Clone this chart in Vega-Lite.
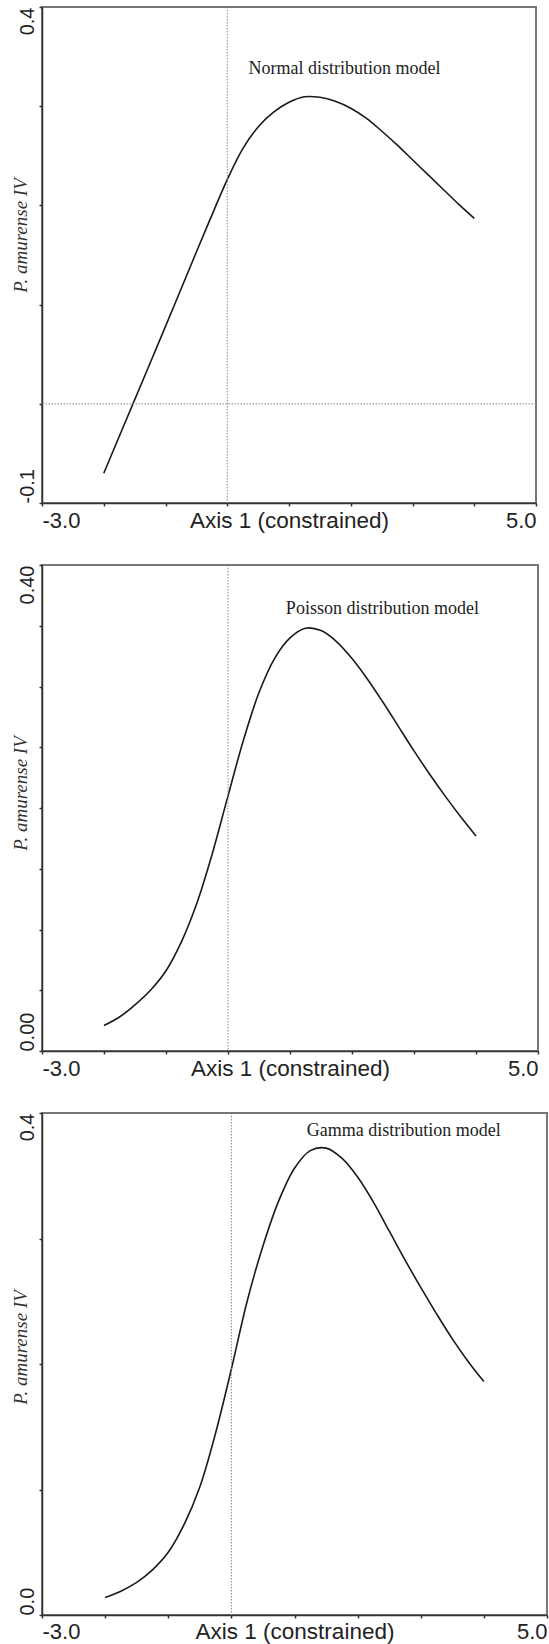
{
  "$schema": "https://vega.github.io/schema/vega-lite/v6.json",
  "background": "white",
  "padding": {"top": 5, "left": 10, "right": 0, "bottom": 0},
  "bounds": "flush",
  "spacing": 62,
  "config": {
    "view": {"stroke": "#777", "strokeWidth": 2},
    "axis": {
      "grid": false,
      "domainColor": "#333",
      "domainWidth": 1.5,
      "tickColor": "#333",
      "tickWidth": 1.5,
      "tickSize": 3,
      "labelFont": "Liberation Sans",
      "labelColor": "#222",
      "labelOverlap": false
    }
  },
  "datasets": {
    "normal": [
      {"axis1": -2.0, "iv": -0.070}, {"axis1": -1.5, "iv": 0.004}, {"axis1": -1.0, "iv": 0.078},
      {"axis1": -0.5, "iv": 0.153}, {"axis1": -0.25, "iv": 0.190}, {"axis1": 0.0, "iv": 0.226},
      {"axis1": 0.25, "iv": 0.257}, {"axis1": 0.5, "iv": 0.279}, {"axis1": 0.75, "iv": 0.294},
      {"axis1": 1.0, "iv": 0.304}, {"axis1": 1.25, "iv": 0.3095}, {"axis1": 1.5, "iv": 0.309},
      {"axis1": 1.75, "iv": 0.305}, {"axis1": 2.0, "iv": 0.298}, {"axis1": 2.25, "iv": 0.288},
      {"axis1": 2.5, "iv": 0.275}, {"axis1": 2.75, "iv": 0.261}, {"axis1": 3.0, "iv": 0.246},
      {"axis1": 3.25, "iv": 0.231}, {"axis1": 3.5, "iv": 0.216}, {"axis1": 3.75, "iv": 0.201},
      {"axis1": 4.0, "iv": 0.187}
    ],
    "poisson": [
      {"axis1": -2.0, "iv": 0.021}, {"axis1": -1.75, "iv": 0.028}, {"axis1": -1.5, "iv": 0.038},
      {"axis1": -1.25, "iv": 0.050}, {"axis1": -1.0, "iv": 0.066}, {"axis1": -0.75, "iv": 0.090},
      {"axis1": -0.5, "iv": 0.122}, {"axis1": -0.25, "iv": 0.163}, {"axis1": 0.0, "iv": 0.210},
      {"axis1": 0.25, "iv": 0.256}, {"axis1": 0.5, "iv": 0.295}, {"axis1": 0.75, "iv": 0.323},
      {"axis1": 1.0, "iv": 0.340}, {"axis1": 1.25, "iv": 0.348}, {"axis1": 1.5, "iv": 0.346},
      {"axis1": 1.75, "iv": 0.337}, {"axis1": 2.0, "iv": 0.323}, {"axis1": 2.25, "iv": 0.306},
      {"axis1": 2.5, "iv": 0.287}, {"axis1": 2.75, "iv": 0.267}, {"axis1": 3.0, "iv": 0.247},
      {"axis1": 3.25, "iv": 0.228}, {"axis1": 3.5, "iv": 0.210}, {"axis1": 3.75, "iv": 0.193},
      {"axis1": 4.0, "iv": 0.177}
    ],
    "gamma": [
      {"axis1": -2.0, "iv": 0.014}, {"axis1": -1.75, "iv": 0.019}, {"axis1": -1.5, "iv": 0.026},
      {"axis1": -1.25, "iv": 0.036}, {"axis1": -1.0, "iv": 0.050}, {"axis1": -0.75, "iv": 0.072},
      {"axis1": -0.5, "iv": 0.102}, {"axis1": -0.25, "iv": 0.145}, {"axis1": 0.0, "iv": 0.196},
      {"axis1": 0.25, "iv": 0.250}, {"axis1": 0.5, "iv": 0.294}, {"axis1": 0.75, "iv": 0.330},
      {"axis1": 1.0, "iv": 0.356}, {"axis1": 1.25, "iv": 0.370}, {"axis1": 1.5, "iv": 0.372},
      {"axis1": 1.75, "iv": 0.364}, {"axis1": 2.0, "iv": 0.349}, {"axis1": 2.25, "iv": 0.329},
      {"axis1": 2.5, "iv": 0.306}, {"axis1": 2.75, "iv": 0.283}, {"axis1": 3.0, "iv": 0.261},
      {"axis1": 3.25, "iv": 0.240}, {"axis1": 3.5, "iv": 0.220}, {"axis1": 3.75, "iv": 0.202},
      {"axis1": 4.0, "iv": 0.186}
    ],
    "ref": [{"zero": 0}],
    "labels_normal": [{"axis1": 1.9, "iv": 0.332, "label": "Normal distribution model"}],
    "labels_poisson": [{"axis1": 2.49, "iv": 0.360, "label": "Poisson distribution model"}],
    "labels_gamma": [{"axis1": 2.73, "iv": 0.382, "label": "Gamma distribution model"}]
  },
  "vconcat": [
    {
      "width": 494,
      "height": 496,
      "layer": [
        {
          "data": {"name": "normal"},
          "mark": {"type": "line", "color": "#1a1a1a", "strokeWidth": 1.6, "interpolate": "catmull-rom"},
          "encoding": {
            "x": {
              "field": "axis1", "type": "quantitative",
              "scale": {"domain": [-3, 5], "nice": false, "zero": false},
              "axis": {
                "values": [-3, -2, -1, 0, 1, 2, 3, 4, 5], "format": ".1f",
                "labelExpr": "datum.value == -3 || datum.value == 5 ? replace(datum.label, '\u2212', '-') : ''",
                "labelFlush": true, "labelBaseline": "alphabetic", "labelPadding": 21, "labelFontSize": 22,
                "title": "Axis 1 (constrained)", "titleFont": "Liberation Sans", "titleFontSize": 22.5,
                "titleFontWeight": "normal", "titleColor": "#222", "titleY": 24, "titleBaseline": "alphabetic"
              }
            },
            "y": {
              "field": "iv", "type": "quantitative",
              "scale": {"domain": [-0.1, 0.4], "nice": false, "zero": false},
              "axis": {
                "values": [-0.1, 0, 0.1, 0.2, 0.3, 0.4], "format": ".1f",
                "labelExpr": "datum.value == -0.1 || datum.value == 0.4 ? replace(datum.label, '\u2212', '-') : ''",
                "labelFlush": false, "labelAngle": -90,
                "labelAlign": {"condition": {"test": "datum.value > 0.2", "value": "right"}, "value": "left"},
                "labelBaseline": "alphabetic", "labelPadding": 5.5, "labelFontSize": 20,
                "title": "P. amurense IV", "titleFont": "Liberation Serif", "titleFontStyle": "italic",
                "titleFontWeight": "normal", "titleFontSize": 19, "titleColor": "#333",
                "titleAngle": 270, "titleBaseline": "alphabetic", "titleAlign": "center", "titleX": -16, "titleY": 228
              }
            }
          }
        },
        {
          "data": {"name": "ref"},
          "mark": {"type": "rule", "strokeDash": [1.5, 1.5], "color": "#888", "strokeWidth": 1},
          "encoding": {"x": {"field": "zero", "type": "quantitative"}}
        },
        {
          "data": {"name": "ref"},
          "mark": {"type": "rule", "strokeDash": [1.5, 1.5], "color": "#888", "strokeWidth": 1},
          "encoding": {"y": {"field": "zero", "type": "quantitative"}}
        },
        {
          "data": {"name": "labels_normal"},
          "mark": {"type": "text", "font": "Liberation Serif", "fontSize": 18, "color": "#222", "align": "center", "baseline": "alphabetic"},
          "encoding": {
            "x": {"field": "axis1", "type": "quantitative"},
            "y": {"field": "iv", "type": "quantitative"},
            "text": {"field": "label"}
          }
        }
      ]
    },
    {
      "width": 496,
      "height": 486,
      "layer": [
        {
          "data": {"name": "poisson"},
          "mark": {"type": "line", "color": "#1a1a1a", "strokeWidth": 1.6, "interpolate": "catmull-rom"},
          "encoding": {
            "x": {
              "field": "axis1", "type": "quantitative",
              "scale": {"domain": [-3, 5], "nice": false, "zero": false},
              "axis": {
                "values": [-3, -2, -1, 0, 1, 2, 3, 4, 5], "format": ".1f",
                "labelExpr": "datum.value == -3 || datum.value == 5 ? replace(datum.label, '\u2212', '-') : ''",
                "labelFlush": true, "labelBaseline": "alphabetic", "labelPadding": 21, "labelFontSize": 22,
                "title": "Axis 1 (constrained)", "titleFont": "Liberation Sans", "titleFontSize": 22.5,
                "titleFontWeight": "normal", "titleColor": "#222", "titleY": 24, "titleBaseline": "alphabetic"
              }
            },
            "y": {
              "field": "iv", "type": "quantitative",
              "scale": {"domain": [0, 0.4], "nice": false, "zero": false},
              "axis": {
                "values": [0, 0.05, 0.1, 0.15, 0.2, 0.25, 0.3, 0.35, 0.4], "format": ".2f",
                "labelExpr": "datum.value == 0 || datum.value == 0.4 ? datum.label : ''",
                "labelFlush": false, "labelAngle": -90,
                "labelAlign": {"condition": {"test": "datum.value > 0.2", "value": "right"}, "value": "left"},
                "labelBaseline": "alphabetic", "labelPadding": 5.5, "labelFontSize": 20,
                "title": "P. amurense IV", "titleFont": "Liberation Serif", "titleFontStyle": "italic",
                "titleFontWeight": "normal", "titleFontSize": 19, "titleColor": "#333",
                "titleAngle": 270, "titleBaseline": "alphabetic", "titleAlign": "center", "titleX": -16, "titleY": 228
              }
            }
          }
        },
        {
          "data": {"name": "ref"},
          "mark": {"type": "rule", "strokeDash": [1.5, 1.5], "color": "#888", "strokeWidth": 1},
          "encoding": {"x": {"field": "zero", "type": "quantitative"}}
        },
        {
          "data": {"name": "labels_poisson"},
          "mark": {"type": "text", "font": "Liberation Serif", "fontSize": 18, "color": "#222", "align": "center", "baseline": "alphabetic"},
          "encoding": {
            "x": {"field": "axis1", "type": "quantitative"},
            "y": {"field": "iv", "type": "quantitative"},
            "text": {"field": "label"}
          }
        }
      ]
    },
    {
      "width": 505,
      "height": 502,
      "layer": [
        {
          "data": {"name": "gamma"},
          "mark": {"type": "line", "color": "#1a1a1a", "strokeWidth": 1.6, "interpolate": "catmull-rom"},
          "encoding": {
            "x": {
              "field": "axis1", "type": "quantitative",
              "scale": {"domain": [-3, 5], "nice": false, "zero": false},
              "axis": {
                "values": [-3, -2, -1, 0, 1, 2, 3, 4, 5], "format": ".1f",
                "labelExpr": "datum.value == -3 || datum.value == 5 ? replace(datum.label, '\u2212', '-') : ''",
                "labelFlush": true, "labelBaseline": "alphabetic", "labelPadding": 20, "labelFontSize": 22,
                "title": "Axis 1 (constrained)", "titleFont": "Liberation Sans", "titleFontSize": 22.5,
                "titleFontWeight": "normal", "titleColor": "#222", "titleY": 23, "titleBaseline": "alphabetic"
              }
            },
            "y": {
              "field": "iv", "type": "quantitative",
              "scale": {"domain": [0, 0.4], "nice": false, "zero": false},
              "axis": {
                "values": [0, 0.1, 0.2, 0.3, 0.4], "format": ".1f",
                "labelExpr": "datum.value == 0 || datum.value == 0.4 ? datum.label : ''",
                "labelFlush": false, "labelAngle": -90,
                "labelAlign": {"condition": {"test": "datum.value > 0.2", "value": "right"}, "value": "left"},
                "labelBaseline": "alphabetic", "labelPadding": 5.5, "labelFontSize": 20,
                "title": "P. amurense IV", "titleFont": "Liberation Serif", "titleFontStyle": "italic",
                "titleFontWeight": "normal", "titleFontSize": 19, "titleColor": "#333",
                "titleAngle": 270, "titleBaseline": "alphabetic", "titleAlign": "center", "titleX": -16, "titleY": 234
              }
            }
          }
        },
        {
          "data": {"name": "ref"},
          "mark": {"type": "rule", "strokeDash": [1.5, 1.5], "color": "#888", "strokeWidth": 1},
          "encoding": {"x": {"field": "zero", "type": "quantitative"}}
        },
        {
          "data": {"name": "labels_gamma"},
          "mark": {"type": "text", "font": "Liberation Serif", "fontSize": 18, "color": "#222", "align": "center", "baseline": "alphabetic"},
          "encoding": {
            "x": {"field": "axis1", "type": "quantitative"},
            "y": {"field": "iv", "type": "quantitative"},
            "text": {"field": "label"}
          }
        }
      ]
    }
  ]
}
